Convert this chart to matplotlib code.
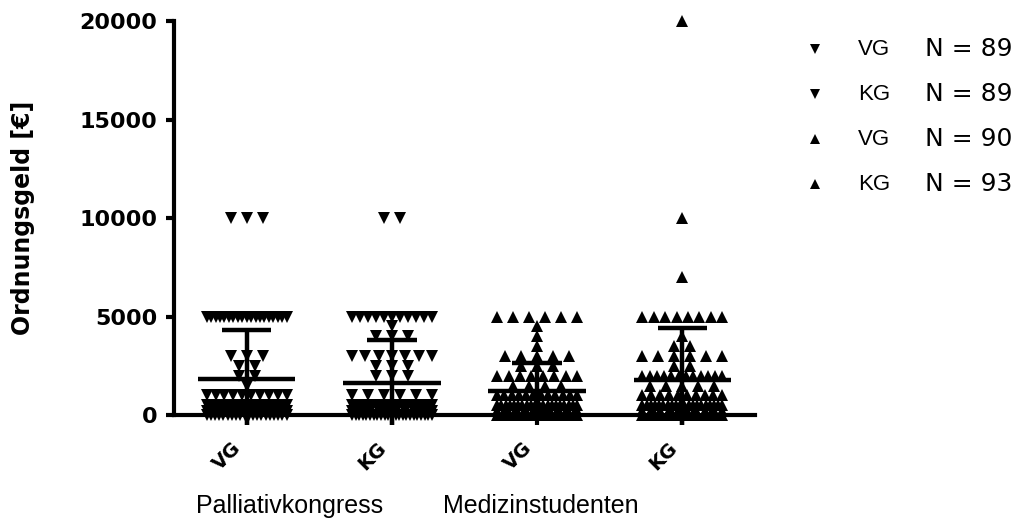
import numpy as np
import matplotlib
matplotlib.use('Agg')
import matplotlib.pyplot as plt
from matplotlib.lines import Line2D
from matplotlib.transforms import ScaledTranslation

# Data (value -> number of points at that value)
group_labels = ['VG', 'KG', 'VG', 'KG']
study_labels = ['Palliativkongress', 'Medizinstudenten']
group_markers = ['v', 'v', '^', '^']

pall_vg_values = [0, 200, 500, 1000, 1500, 2000, 2500, 3000, 5000, 10000]
pall_vg_counts = [20, 14, 15, 10, 1, 2, 2, 3, 19, 3]

pall_kg_values = [0, 200, 500, 1000, 2000, 2500, 3000, 4000, 4500, 5000, 10000]
pall_kg_counts = [23, 10, 20, 6, 3, 3, 7, 3, 1, 11, 2]

med_vg_values = [0, 200, 500, 1000, 1500, 2000, 2500, 3000, 3500, 4000, 4500, 5000]
med_vg_counts = [19, 10, 20, 12, 4, 8, 3, 5, 1, 1, 1, 6]

med_kg_values = [0, 200, 500, 1000, 1500, 2000, 2500, 3000, 3500, 4000, 5000, 7000, 10000, 20000]
med_kg_counts = [14, 10, 20, 10, 5, 12, 2, 6, 2, 1, 8, 1, 1, 1]

all_values = [pall_vg_values, pall_kg_values, med_vg_values, med_kg_values]
all_counts = [pall_vg_counts, pall_kg_counts, med_vg_counts, med_kg_counts]

plt.rcParams['font.family'] = ['Liberation Sans', 'DejaVu Sans']
wide = ['DejaVu Sans']


def swarm(vals, step=0.11, max_w=0.55):
    # points with the same value sit side by side, rows squeezed to max_w
    vals = np.sort(np.asarray(vals, dtype=float))
    xs = np.zeros(len(vals))
    uniq, first, counts = np.unique(vals, return_index=True, return_counts=True)
    for i0, n in zip(first, counts):
        s = step if n == 1 else min(step, max_w / (n - 1))
        xs[i0:i0 + n] = (np.arange(n) - (n - 1) / 2) * s
    return vals, xs


fig = plt.figure(figsize=(10.28, 5.23), dpi=100)
ax = fig.add_axes([174 / 1028, 1 - 425 / 523, (755 - 174) / 1028, (425 - 21) / 523])

for i, (v, c) in enumerate(zip(all_values, all_counts)):
    data = np.repeat(v, c)
    ys, xs = swarm(data)
    ax.plot(i + xs, ys, linestyle='none', marker=group_markers[i], ms=9,
            color='black', markeredgewidth=0, clip_on=False, zorder=2)
    m = data.mean()
    sd = data.std(ddof=1)
    ax.hlines(m, i - 0.335, i + 0.335, color='black', lw=3.2, zorder=3)
    ax.hlines(m + sd, i - 0.17, i + 0.17, color='black', lw=3.2, zorder=3)
    ax.vlines(i, m - sd, m + sd, color='black', lw=3.2, zorder=3)

ax.set_xlim(-0.5, 3.5)
ax.set_ylim(-500, 20000)
ax.spines['top'].set_visible(False)
ax.spines['right'].set_visible(False)
ax.spines['left'].set_linewidth(3)
ax.spines['left'].set_bounds(0, 20000)
ax.spines['bottom'].set_linewidth(3)
ax.spines['bottom'].set_position(('data', 0))

ax.set_yticks([0, 5000, 10000, 15000, 20000])
ax.set_yticklabels(['0', '5000', '10000', '15000', '20000'], fontweight='bold',
                   fontsize=16, family=wide)
ax.tick_params(axis='y', length=6, width=3, pad=6)

ax.set_xticks(range(4))
ax.set_xticklabels(group_labels, fontweight='bold', fontsize=14, rotation=45,
                   ha='right', rotation_mode='anchor', family=wide)
ax.tick_params(axis='x', length=7, width=3, pad=10)
shift = ScaledTranslation(-15 / 100, 0, fig.dpi_scale_trans)
for lab in ax.get_xticklabels():
    lab.set_transform(lab.get_transform() + shift)

fig.text(23 / 1028, 0.583, 'Ordnungsgeld [€]', rotation=90, ha='center', va='center',
         fontweight='bold', fontsize=17, family=wide)

fig.text(290 / 1028, 0.033, study_labels[0], ha='center', va='center', fontsize=18)
fig.text(541 / 1028, 0.033, study_labels[1], ha='center', va='center', fontsize=18)

# legend
leg_y = [0.906, 0.820, 0.734, 0.648]
for i in range(4):
    n = int(np.sum(all_counts[i]))
    fig.add_artist(Line2D([815 / 1028], [leg_y[i]], marker=group_markers[i], ms=7,
                          color='black', markeredgewidth=0, linestyle='none',
                          transform=fig.transFigure))
    fig.text(858 / 1028, leg_y[i], group_labels[i], va='center', fontsize=16)
    fig.text(925 / 1028, leg_y[i], f'N = {n}', va='center', fontsize=18, family=wide)

fig.savefig('out.png', dpi=100)
